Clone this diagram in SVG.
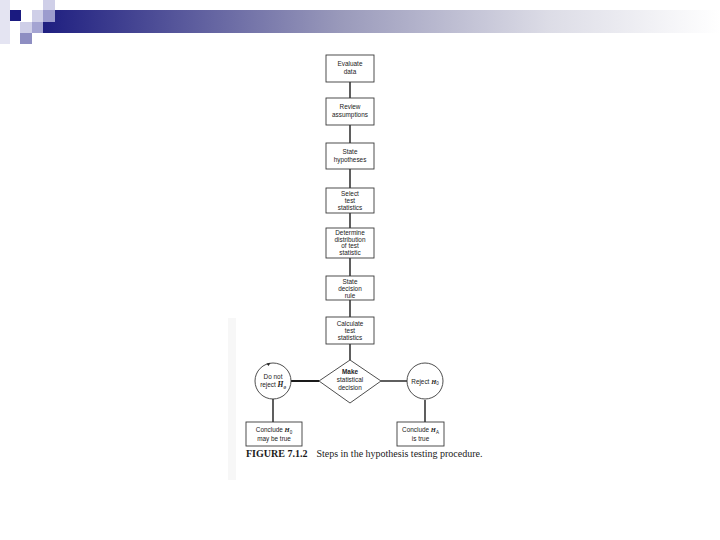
<svg xmlns="http://www.w3.org/2000/svg" width="720" height="540" viewBox="0 0 720 540">
<defs>
<linearGradient id="bar" x1="0" y1="0" x2="1" y2="0">
<stop offset="0" stop-color="#1a1a7e"/>
<stop offset="0.45" stop-color="#9a9abb"/>
<stop offset="0.75" stop-color="#dcdce6"/>
<stop offset="1" stop-color="#ffffff"/>
</linearGradient>
<style>
.box{fill:#fff;stroke:#3a3a3a;stroke-width:0.9}
.ln{stroke:#1a1a1a;stroke-width:1.4;fill:none}
.t{font-family:"Liberation Sans",Arial,sans-serif;font-size:6.4px;fill:#222;text-anchor:middle}
.i{font-family:"Liberation Serif",serif;font-style:italic;font-weight:bold}
.cap{font-family:"Liberation Serif","Times New Roman",serif;font-size:10px;fill:#1a1a1a}
</style>
</defs>
<rect width="720" height="540" fill="#fff"/>
<g id="header">
<rect x="32" y="10" width="688" height="23" fill="url(#bar)"/>
<rect x="0" y="0" width="10" height="44" fill="#e4e4f2"/>
<rect x="10" y="10" width="11" height="11" fill="#1a1a80"/>
<rect x="43" y="0" width="12" height="10" fill="#cfcfe8"/>
<rect x="32" y="10" width="11" height="12" fill="#cfcfe8"/>
<rect x="43" y="10" width="12" height="12" fill="#9c9cce"/>
<rect x="20" y="22" width="12" height="11" fill="#cfcfe8"/>
<rect x="32" y="22" width="11" height="11" fill="#a4a4d2"/>
<rect x="20" y="33" width="12" height="11" fill="#8e8ec2"/>
</g>
<rect x="228" y="318" width="8" height="162" fill="#f7f7f7"/>
<g id="connectors">
<line class="ln" x1="350" y1="82" x2="350" y2="98"/>
<line class="ln" x1="350" y1="125" x2="350" y2="143"/>
<line class="ln" x1="350" y1="169" x2="350" y2="188"/>
<line class="ln" x1="350" y1="213" x2="350" y2="228"/>
<line class="ln" x1="350" y1="258" x2="350" y2="276"/>
<line class="ln" x1="350" y1="300" x2="350" y2="317"/>
<line class="ln" x1="350" y1="344" x2="350" y2="360"/>
<line class="ln" x1="291" y1="381" x2="319" y2="381" style="stroke-width:2"/>
<line class="ln" x1="381" y1="381" x2="407" y2="381"/>
<line class="ln" x1="273" y1="399" x2="273" y2="422"/>
<line class="ln" x1="425" y1="400" x2="425" y2="422"/>
</g>
<g id="evaluate">
<rect class="box" x="326" y="55" width="48" height="27"/>
<text class="t" x="350" y="66">Evaluate</text>
<text class="t" x="350" y="74">data</text>
</g>
<g id="review">
<rect class="box" x="326" y="98" width="48" height="27"/>
<text class="t" x="350" y="109">Review</text>
<text class="t" x="350" y="117">assumptions</text>
</g>
<g id="hypotheses">
<rect class="box" x="326" y="143" width="48" height="26"/>
<text class="t" x="350" y="154">State</text>
<text class="t" x="350" y="162">hypotheses</text>
</g>
<g id="select">
<rect class="box" x="326" y="188" width="48" height="25"/>
<text class="t" x="350" y="196">Select</text>
<text class="t" x="350" y="203">test</text>
<text class="t" x="350" y="210">statistics</text>
</g>
<g id="determine">
<rect class="box" x="326" y="228" width="48" height="30"/>
<text class="t" x="350" y="235">Determine</text>
<text class="t" x="350" y="241.7">distribution</text>
<text class="t" x="350" y="248.4">of test</text>
<text class="t" x="350" y="255">statistic</text>
</g>
<g id="decision-rule">
<rect class="box" x="326" y="276" width="48" height="24"/>
<text class="t" x="350" y="284">State</text>
<text class="t" x="350" y="291">decision</text>
<text class="t" x="350" y="298">rule</text>
</g>
<g id="calculate">
<rect class="box" x="326" y="317" width="48" height="27"/>
<text class="t" x="350" y="326">Calculate</text>
<text class="t" x="350" y="333">test</text>
<text class="t" x="350" y="340">statistics</text>
</g>
<g id="make-decision">
<polygon class="box" points="350,360 381,381 350,403 319,381"/>
<text class="t" x="350" y="374" style="font-weight:bold">Make</text>
<text class="t" x="350" y="382">statistical</text>
<text class="t" x="350" y="389.5">decision</text>
</g>
<g id="do-not-reject">
<circle class="box" cx="273" cy="381" r="18"/>
<path d="M266.5,363.5 l4,-0.5 l-2,3 z" fill="#222"/>
<text class="t" x="273" y="379">Do not</text>
<text class="t" x="273" y="387">reject <tspan class="i" font-size="7.5">H</tspan><tspan class="i" font-size="5" dy="1.5">0</tspan></text>
</g>
<g id="reject">
<circle class="box" cx="425" cy="381" r="18"/>
<text class="t" x="425" y="383.5">Reject <tspan class="i" font-size="6.5">H</tspan><tspan font-size="4.5" dy="1.5">0</tspan></text>
</g>
<g id="conclude-h0">
<rect class="box" x="246" y="422" width="56" height="24"/>
<text class="t" x="274" y="432">Conclude <tspan class="i" font-size="6.5">H</tspan><tspan font-size="4.5" dy="1.5">0</tspan></text>
<text class="t" x="274" y="441">may be true</text>
</g>
<g id="conclude-ha">
<rect class="box" x="397" y="422" width="47" height="24"/>
<text class="t" x="420.5" y="432">Conclude <tspan class="i" font-size="6.5">H</tspan><tspan font-size="4.5" dy="1.5">A</tspan></text>
<text class="t" x="420.5" y="441">is true</text>
</g>
<g id="caption">
<text class="cap" x="246" y="457"><tspan font-weight="bold">FIGURE 7.1.2</tspan><tspan dx="9">Steps in the hypothesis testing procedure.</tspan></text>
</g>
</svg>
